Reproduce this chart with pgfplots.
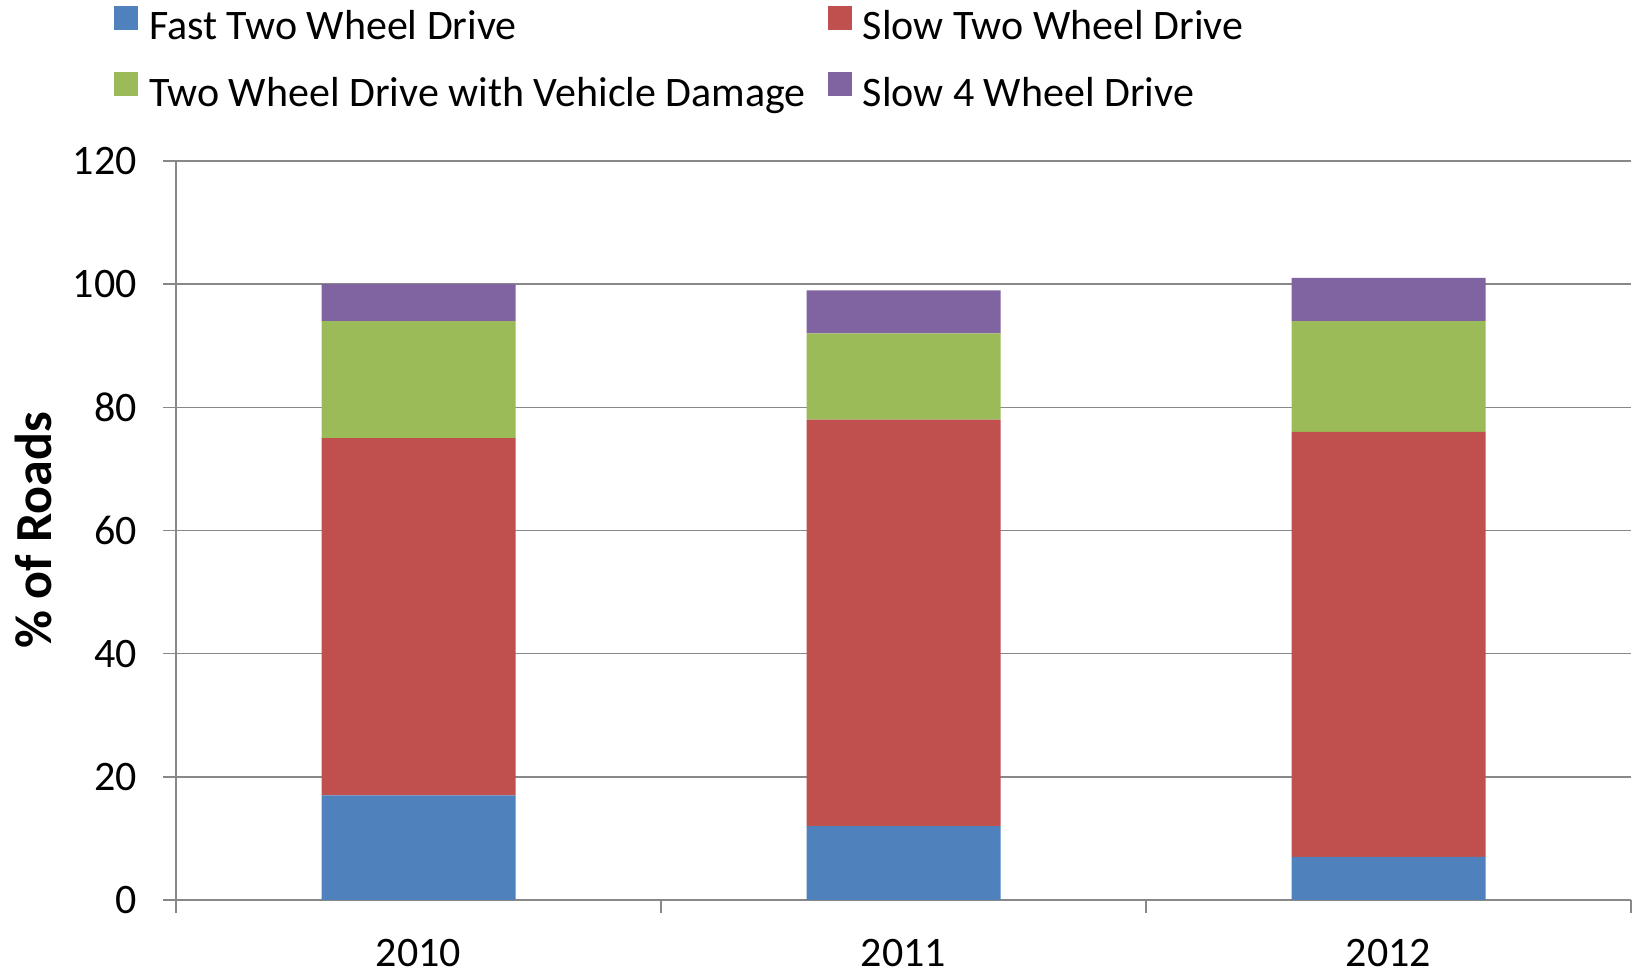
\documentclass[border=0pt]{standalone}
\usepackage{pgfplots}
\pgfplotsset{compat=1.18}
\usepackage{fontspec}
\setmainfont{Carlito}
\definecolor{fastblue}{HTML}{4F81BD}
\definecolor{slowred}{HTML}{C0504D}
\definecolor{dmggreen}{HTML}{9BBB59}
\definecolor{fourpurple}{HTML}{8064A2}
\definecolor{axisgray}{HTML}{888888}
\newcommand\basefont{\fontsize{21}{25}\selectfont}
\begin{document}
\begin{tikzpicture}
\useasboundingbox (-88pt,-38.5pt) rectangle (730pt,450pt);
\begin{axis}[
    width=727.5pt, height=369.5pt, scale only axis,
    ybar stacked, bar width=0.4,
    xmin=-0.5, xmax=2.5, ymin=0, ymax=120,
    xtick={-0.5,0.5,1.5,2.5}, xticklabels={2010,2011,2012},
    x tick label as interval,
    ytick={0,20,...,120},
    axis x line*=bottom, axis y line*=left,
    axis line style={axisgray, line width=0.8pt},
    ymajorgrids, grid style={axisgray, line width=0.8pt},
    tick align=outside, major tick length=6.5pt,
    tick style={axisgray, line width=0.8pt},
    /pgf/number format/assume math mode=true,
    tick label style={font=\basefont},
    yticklabel style={anchor=east, inner sep=0pt, xshift=-13pt},
    xticklabel style={anchor=north, inner sep=0pt, yshift=-13pt},
    ylabel={\% of Roads},
    ylabel style={font=\fontsize{26}{31}\selectfont\bfseries, at={(axis description cs:-0.0979,0.5)}, anchor=center},
    legend columns=2,
    legend cell align=left,
    legend image code/.code={\fill[#1] (0pt,0pt) rectangle (12pt,12pt);},
    legend style={at={(axis description cs:-0.0426,1.2101)}, anchor=north west,
        draw=none, fill=none, inner sep=0pt, outer sep=0pt, font=\basefont,
        row sep=11.3pt,
        nodes={inner sep=0pt, text height=15pt, text depth=5pt},
        /tikz/every odd column/.append style={column sep=5.5pt},
        /tikz/every even column/.append style={column sep=11pt}},
]
\addplot[fill=fastblue, draw=none] coordinates {(0,17) (1,12) (2,7)};
\addplot[fill=slowred, draw=none] coordinates {(0,58) (1,66) (2,69)};
\addplot[fill=dmggreen, draw=none] coordinates {(0,19) (1,14) (2,18)};
\addplot[fill=fourpurple, draw=none] coordinates {(0,6) (1,7) (2,7)};
\legend{Fast Two Wheel Drive, Slow Two Wheel Drive, Two Wheel Drive with Vehicle Damage, Slow 4 Wheel Drive}
\end{axis}
\end{tikzpicture}
\end{document}
